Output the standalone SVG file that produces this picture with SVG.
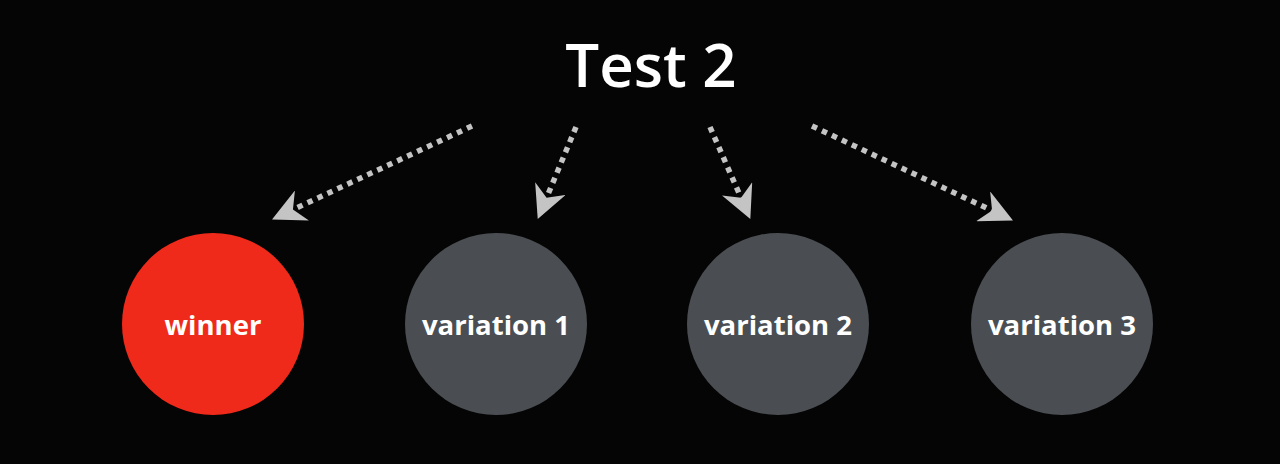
<svg xmlns="http://www.w3.org/2000/svg" width="1280" height="464" viewBox="0 0 1280 464">
<defs>
<style>
.bg{fill:#050505}
.node{fill:#4a4e52}
.win{fill:#f02a1b}
.lbl{font-family:"Open Sans","Liberation Sans",sans-serif;font-weight:700;font-size:27.5px;fill:#ffffff;text-anchor:middle}
.title{font-family:"Open Sans","Liberation Sans",sans-serif;font-weight:600;font-size:60px;fill:#ffffff;text-anchor:middle}
.conn{stroke:#c4c4c4;stroke-width:5.5;stroke-dasharray:5.5 5.5;fill:none;marker-end:url(#ah)}
</style>
<marker id="ah" markerWidth="6" markerHeight="6" viewBox="0 0 10 10" refX="9" refY="5" orient="auto" markerUnits="strokeWidth">
<path d="M0,0 L10,5 L0,10 L3,5 Z" fill="#c4c4c4"/>
</marker>
</defs>
<rect class="bg" x="0" y="0" width="1280" height="464"/>
<g id="title"><text class="title" x="651" y="87">Test 2</text></g>
<g id="connectors">
<line class="conn" x1="472" y1="126" x2="275" y2="218"/>
<line class="conn" x1="576" y1="127" x2="539" y2="216"/>
<line class="conn" x1="710" y1="127" x2="749" y2="216"/>
<line class="conn" x1="812" y1="126" x2="1010" y2="219"/>
</g>
<g id="winner"><circle class="win" cx="213" cy="324" r="91"/><text class="lbl" x="213" y="335">winner</text></g>
<g id="variation1"><circle class="node" cx="496" cy="324" r="91"/><text class="lbl" x="496" y="335">variation 1</text></g>
<g id="variation2"><circle class="node" cx="778" cy="324" r="91"/><text class="lbl" x="778" y="335">variation 2</text></g>
<g id="variation3"><circle class="node" cx="1062" cy="324" r="91"/><text class="lbl" x="1062" y="335">variation 3</text></g>
</svg>
